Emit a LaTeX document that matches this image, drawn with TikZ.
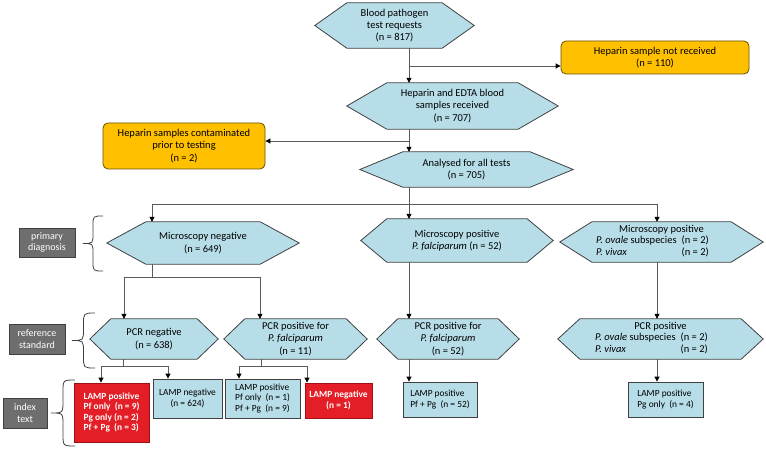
\documentclass[tikz,border=0pt]{standalone}
\usepackage{fontspec}
\setmainfont{Carlito}
\usetikzlibrary{arrows.meta,backgrounds,calc,positioning}

\definecolor{hexblue}{HTML}{B7DEE8}
\definecolor{edgegray}{HTML}{404040}
\definecolor{linkgray}{HTML}{5A5A5A}
\definecolor{warnorange}{HTML}{FFC000}
\definecolor{warnedge}{HTML}{6B5000}
\definecolor{flagred}{HTML}{E41E26}
\definecolor{flagedge}{HTML}{9E1016}
\definecolor{tagfill}{HTML}{6E6E6E}

\tikzset{
  hextext/.style={inner sep=0pt, align=center, font=\fontsize{10.5}{12.2}\selectfont},
  hexline/.style={draw=edgegray, fill=hexblue, line width=0.8pt},
  excluded/.style={draw=warnedge, fill=warnorange, rounded corners=5pt, line width=0.8pt,
    inner sep=0pt, align=center, font=\fontsize{10.5}{12.2}\selectfont},
  lampbox/.style={draw=edgegray, fill=hexblue, line width=0.8pt, inner sep=0pt,
    font=\fontsize{9.4}{10.6}\selectfont},
  lampred/.style={lampbox, draw=flagedge, fill=flagred, text=white,
    font=\fontsize{9.4}{10.6}\selectfont\bfseries},
  tag/.style={draw=edgegray, fill=tagfill, text=white, line width=0.8pt, inner sep=0pt,
    align=center, font=\fontsize{10}{11.6}\selectfont},
  link/.style={draw=linkgray, line width=0.8pt},
  arr/.style={link, -{Triangle[length=5pt,width=5pt,color=black]}},
  bracket/.style={draw=edgegray, line width=0.8pt},
}

% hexagon: name, centre, width, height, indent, text
\newcommand{\hexnode}[6]{%
  \node[hextext, minimum width=#3pt, minimum height=#4pt] (#1) at (#2) {#6};
  \begin{scope}[on background layer]
    \path[hexline] (#1.west) -- ([xshift=#5pt]#1.north west) -- ([xshift=-#5pt]#1.north east)
      -- (#1.east) -- ([xshift=-#5pt]#1.south east) -- ([xshift=#5pt]#1.south west) -- cycle;
  \end{scope}}

\newcommand{\speciestab}{%
  \begin{tabular}{@{}l@{\hspace{5pt}}l@{\hspace{18pt}}}
    \textit{P. ovale} subspecies & (n = 2)\\
    \textit{P. vivax} & (n = 2)
  \end{tabular}}

\begin{document}
\begin{tikzpicture}[x=1pt,y=-1pt]
\useasboundingbox (0,0) rectangle (766,449);

% flow from requests to analysis
\hexnode{req}{394.5,25.5}{159}{45}{32}{Blood pathogen\\test requests\\(n = 817)}
\hexnode{recv}{452.5,106}{211}{46}{40}{Heparin and EDTA blood\\samples received\\(n = 707)}
\hexnode{anal}{466.5,169.5}{213}{35}{43}{Analysed for all tests\\(n = 705)}
\node[excluded, minimum width=188pt, minimum height=33pt] (notrecv) at (655,57.5)
  {Heparin sample not received\\(n = 110)};
\node[excluded, minimum width=162pt, minimum height=46pt] (contam) at (184,146)
  {Heparin samples contaminated\\prior to testing\\(n = 2)};

% primary diagnosis
\hexnode{mneg}{203,243}{192}{42}{39}{Microscopy negative\\(n = 649)}
\hexnode{mpf}{457,240.5}{192}{43}{26}{Microscopy positive\\\textit{P. falciparum} (n = 52)}
\hexnode{mov}{661.5,242}{203}{40}{32}{Microscopy positive\\\speciestab}

% reference standard
\hexnode{pneg}{154,339}{128}{40}{21}{PCR negative\\(n = 638)}
\hexnode{ppf11}{295.5,339}{143}{40}{21}{PCR positive for\\\textit{P. falciparum}\\(n = 11)}
\hexnode{ppf52}{448,339}{142}{40}{21}{PCR positive for\\\textit{P. falciparum}\\(n = 52)}
\hexnode{pov}{660.5,339}{205}{40}{22}{PCR positive\\\speciestab}

% index test
\node[lampred, minimum width=75pt, minimum height=59pt, align=left] (lpos1) at (111.5,412.5)
  {LAMP positive\\Pf only~ (n = 9)\\Pg only (n = 2)\\Pf + Pg~ (n = 3)};
\node[lampbox, minimum width=69pt, minimum height=39pt, align=center] (lneg1) at (187.5,398.5)
  {LAMP negative\\(n = 624)};
\node[lampbox, minimum width=75pt, minimum height=39pt, align=left] (lpos2) at (262.5,398.5)
  {LAMP positive\\Pf only~ (n = 1)\\Pf + Pg~ (n = 9)};
\node[lampred, minimum width=67pt, minimum height=35pt, align=center] (lneg2) at (338.5,400.5)
  {LAMP negative\\(n = 1)};
\node[lampbox, minimum width=74pt, minimum height=35pt, align=left] (lpos3) at (440,399.5)
  {LAMP positive\\Pf + Pg~ (n = 52)};
\node[lampbox, minimum width=75pt, minimum height=35pt, align=left] (lpos4) at (665.5,399.5)
  {LAMP positive\\Pg only~ (n = 4)};

% side labels
\node[tag, minimum width=56pt, minimum height=29pt] (tagprim) at (47,242.5) {primary\\diagnosis};
\node[tag, minimum width=56pt, minimum height=30pt] (tagref) at (37,339) {reference\\standard};
\node[tag, minimum width=44pt, minimum height=30pt] (tagidx) at (25,413) {index\\text};

\draw[bracket] (103,216) .. controls (93,216) .. (93,226) -- (93,233.5)
  .. controls (93,243.5) .. (83,243.5) .. controls (93,243.5) .. (93,253.5) -- (93,261)
  .. controls (93,271) .. (103,271);
\draw[bracket] (95,313) .. controls (83.5,313) .. (83.5,324.5) -- (83.5,329)
  .. controls (83.5,340.5) .. (72,340.5) .. controls (83.5,340.5) .. (83.5,352) -- (83.5,356.5)
  .. controls (83.5,368) .. (95,368);
\draw[bracket] (75,380) .. controls (63,380) .. (63,392) -- (63,401)
  .. controls (63,413) .. (51,413) .. controls (63,413) .. (63,425) -- (63,434)
  .. controls (63,446) .. (75,446);

% connectors
\coordinate (xpf) at (409,0);
\coordinate (xov) at (657,0);
\coordinate (split1) at (409,66);
\coordinate (split2) at (409,141);
\coordinate (bus1) at (409,204);
\coordinate (bus2) at (152,277);
\coordinate (bus3) at (123,366);
\coordinate (bus4) at (261,366);

\draw[arr] (req.south -| xpf) -- (recv.north -| xpf);
\draw[arr] (split1) -- (split1 -| notrecv.west);
\draw[arr] (recv.south -| xpf) -- (anal.north -| xpf);
\draw[arr] (split2) -- (split2 -| contam.east);
\draw[arr] (anal.south -| xpf) -- (mpf.north -| xpf);
\draw[arr] (bus1) -| ([xshift=-51pt]mneg.north);
\draw[arr] (bus1) -| (mov.north -| xov);

\draw[link] (mneg.south -| bus2) -- (bus2);
\draw[arr] (bus2) -| ([xshift=-30pt]pneg.north);
\draw[arr] (bus2) -| ([xshift=-35.5pt]ppf11.north);
\draw[arr] (mpf.south -| xpf) -- (ppf52.north -| xpf);
\draw[arr] (mov.south -| xov) -- (pov.north -| xov);

\draw[link] (pneg.south -| bus3) -- (bus3);
\draw[arr] (bus3) -| ([xshift=-10.5pt]lpos1.north);
\draw[arr] (bus3) -| ([xshift=-19.5pt]lneg1.north);
\draw[link] (ppf11.south -| bus4) -- (bus4);
\draw[arr] (bus4) -| ([xshift=-23.5pt]lpos2.north);
\draw[arr] (bus4) -| ([xshift=-31.5pt]lneg2.north);
\draw[arr] (ppf52.south -| xpf) -- (lpos3.north -| xpf);
\draw[arr] (pov.south -| xov) -- (lpos4.north -| xov);
\end{tikzpicture}
\end{document}
